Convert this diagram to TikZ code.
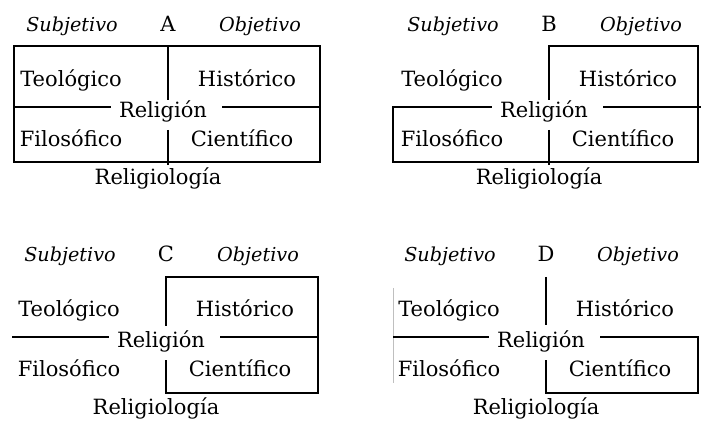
\documentclass[tikz,border=0pt]{standalone}
\usepackage{fontspec}
\setmainfont{DejaVu Serif}
\usepackage{tikz}
\usetikzlibrary{positioning}
\usetikzlibrary{calc}
\tikzset{
   lbl/.style = {%
    anchor=base,
    inner sep=0pt,
    font=\fontsize{10.5}{12}\selectfont},
   ital/.style = {%
    lbl,
    font=\fontsize{9.6}{12}\selectfont\itshape},
   raya/.style = {%
    draw=black,
    line width=0.85pt},
   tenue/.style = {%
    draw=black!25,
    line width=0.3pt},
    }
% rotulos comunes de cada cuadro
\newcommand{\cuadro}[2]{%
  \node[ital] (#1subj) at (-96,-75) {Subjetivo};
  \node[lbl]  (#1let)  at (0,-75)   {#2};
  \node[ital] (#1obj)  at (92,-75)  {Objetivo};
  \node[lbl]  (#1teo)  at (-97,-20) {Teológico};
  \node[lbl]  (#1his)  at (79,-20)  {Histórico};
  \node[lbl]  (#1rel)  at (-5,11)   {Religión};
  \node[lbl]  (#1fil)  at (-97,40)  {Filosófico};
  \node[lbl]  (#1cie)  at (74,40)   {Científico};
  \node[lbl]  (#1rgl)  at (-10,78)  {Religiología};
}

\begin{document}
\begin{tikzpicture}[x=0.5pt,y=-0.5pt]
  \useasboundingbox (0,0) rectangle (701,426);

  % A
  \begin{scope}[shift={(168,107)}]
    \cuadro{a}{A}
    \draw[raya] (-154,-61) rectangle (152,55);
    \draw[raya] (0,-61) -- (0,-7);
    \draw[raya] (0,23) -- (0,58);
    \draw[raya] (-154,0) -- ($(arel.west |- 0,0)+(-8,0)$);
    \draw[raya] ($(arel.east |- 0,0)+(15,0)$) -- (152,0);
  \end{scope}

  % B
  \begin{scope}[shift={(549,107)}]
    \cuadro{b}{B}
    \draw[raya] (0,-7) -- (0,-61) -- (149,-61) -- (149,55) -- (-156,55) -- (-156,0)
      -- ($(brel.west |- 0,0)+(-8,0)$);
    \draw[raya] ($(brel.east |- 0,0)+(15,0)$) -- (152,0);
    \draw[raya] (0,23) -- (0,58);
  \end{scope}

  % C
  \begin{scope}[shift={(166,337)}]
    \cuadro{c}{C}
    \draw[raya] (0,-11) -- (0,-60) -- (152,-60) -- (152,56) -- (0,56) -- (0,23);
    \draw[raya] (-154,0) -- ($(crel.west |- 0,0)+(-8,0)$);
    \draw[raya] ($(crel.east |- 0,0)+(15,0)$) -- (152,0);
  \end{scope}

  % D
  \begin{scope}[shift={(546,337)}]
    \cuadro{d}{D}
    \draw[tenue] (-153,-49) -- (-153,46);
    \draw[raya] (0,-60) -- (0,-12);
    \draw[raya] (-153,0) -- ($(drel.west |- 0,0)+(-8,0)$);
    \draw[raya] ($(drel.east |- 0,0)+(15,0)$) -- (152,0) -- (152,56) -- (0,56) -- (0,23);
  \end{scope}
\end{tikzpicture}
\end{document}
